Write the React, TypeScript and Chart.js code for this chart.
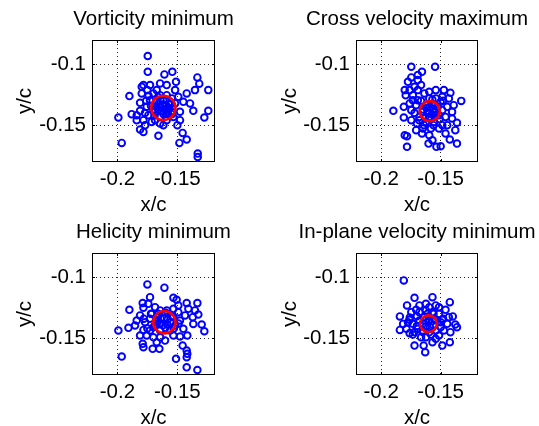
import React, { useEffect, useRef } from "react";
import { Chart, registerables } from "chart.js";

Chart.register(...registerables);

const FONT = "'Liberation Sans', Arial, Helvetica, sans-serif";

const TITLES = ["Vorticity minimum", "Cross velocity maximum", "Helicity minimum", "In-plane velocity minimum"];
const X_TITLE = "x/c";
const Y_TITLE = "y/c";
const X_TICKS = [-0.2, -0.15];
const X_LABELS = ["-0.2", "-0.15"];
const Y_TICKS = [-0.15, -0.1];
const Y_LABELS = ["-0.15", "-0.1"];
const X_MIN = -0.2212;
const X_MAX = -0.1186;
const Y_MIN = -0.1801;
const Y_MAX = -0.0803;

// Vorticity minimum
const vortX = [-0.1747, -0.1747, -0.1608, -0.1542, -0.1333, -0.1511, -0.1242, -0.19, -0.1992, -0.1964, -0.133, -0.133, -0.1483, -0.1422, -0.1456, -0.1658, -0.1242, -0.1275, -0.1367, -0.1394, -0.1317, -0.1353, -0.1422, -0.1783, -0.1728, -0.1797, -0.17, -0.1811, -0.1881, -0.1839, -0.1783, -0.1811, -0.1783, -0.1714, -0.1617, -0.1589, -0.15, -0.1644, -0.1589, -0.1519, -0.1492, -0.145, -0.1478, -0.1533,
  -0.1797, -0.175, -0.1672, -0.1644, -0.1589, -0.1547, -0.1672, -0.1617, -0.1561, -0.1644, -0.1589, -0.1686, -0.1547, -0.1644, -0.1589, -0.1756, -0.1742, -0.1686, -0.1644, -0.1811, -0.1769, -0.1519, -0.1478, -0.1728, -0.1839,
  -0.1655, -0.1625, -0.1595, -0.166, -0.163, -0.16, -0.157, -0.168, -0.1615, -0.158, -0.17, -0.156, -0.164, -0.172, -0.169, -0.1545, -0.176, -0.177, -0.174, -0.166];
const vortY = [-0.0934, -0.1063, -0.1085, -0.1063, -0.1109, -0.1145, -0.1213, -0.1262, -0.1437, -0.1645, -0.1732, -0.176, -0.1645, -0.1617, -0.1563, -0.1587, -0.1382, -0.1437, -0.1382, -0.1322, -0.116, -0.1213, -0.124, -0.1172, -0.1172, -0.124, -0.124, -0.1317, -0.141, -0.1418, -0.1459, -0.1535, -0.1555, -0.1473, -0.15, -0.1459, -0.15, -0.1158, -0.1172, -0.1213, -0.1268, -0.1309, -0.139, -0.1432,
  -0.1186, -0.1213, -0.1213, -0.1254, -0.1254, -0.1281, -0.1309, -0.1295, -0.1322, -0.135, -0.1363, -0.1391, -0.1391, -0.1432, -0.1404, -0.135, -0.1418, -0.1459, -0.1486, -0.1382, -0.15, -0.1322, -0.1459, -0.1295, -0.1459,
  -0.1325, -0.133, -0.1335, -0.137, -0.1385, -0.1375, -0.136, -0.135, -0.141, -0.1395, -0.138, -0.133, -0.13, -0.134, -0.142, -0.141, -0.13, -0.14, -0.126, -0.127];

// Cross velocity maximum
const crossX = [-0.1747, -0.1547, -0.1657, -0.1692, -0.1747, -0.1775, -0.1692, -0.1802, -0.1761, -0.1794, -0.1692, -0.1596, -0.1541, -0.1473, -0.1418, -0.1327, -0.139, -0.1898, -0.181, -0.181, -0.1747, -0.1747, -0.17, -0.165, -0.1582, -0.1486, -0.1404, -0.1363, -0.1377, -0.1802, -0.1783, -0.1783, -0.1657, -0.1569, -0.1602, -0.1536, -0.15, -0.1423, -0.1363, -0.1459, -0.1692, -0.1734, -0.1486, -0.1445, -0.1514,
  -0.1637, -0.1596, -0.1541, -0.15, -0.1624, -0.1555, -0.1651, -0.1596, -0.1541, -0.1486, -0.1459, -0.1624, -0.1555, -0.1514, -0.1445, -0.1679, -0.1706, -0.1734, -0.1665, -0.172, -0.1761, -0.1431, -0.1404, -0.1596, -0.1706,
  -0.162, -0.159, -0.156, -0.161, -0.1575, -0.1545, -0.163, -0.16, -0.165, -0.1525, -0.1665, -0.157, -0.151, -0.168, -0.172, -0.148, -0.156, -0.164];
const crossY = [-0.1022, -0.1022, -0.1063, -0.109, -0.1109, -0.1145, -0.1131, -0.1213, -0.1213, -0.1254, -0.1213, -0.1227, -0.1213, -0.1213, -0.1235, -0.1301, -0.1336, -0.1382, -0.135, -0.1437, -0.1377, -0.1459, -0.1486, -0.1527, -0.1527, -0.15, -0.1445, -0.148, -0.1541, -0.1582, -0.159, -0.1677, -0.1568, -0.1623, -0.165, -0.1677, -0.1672, -0.1617, -0.165, -0.1568, -0.1295, -0.1295, -0.1268, -0.135, -0.1418,
  -0.124, -0.1281, -0.1281, -0.1309, -0.1336, -0.1336, -0.1391, -0.1432, -0.1418, -0.1377, -0.1432, -0.1473, -0.1473, -0.1527, -0.15, -0.1432, -0.1336, -0.1254, -0.1172, -0.1186, -0.1322, -0.1281, -0.1391, -0.1582, -0.1541,
  -0.136, -0.135, -0.1365, -0.14, -0.141, -0.1395, -0.143, -0.144, -0.137, -0.135, -0.13, -0.129, -0.145, -0.146, -0.14, -0.13, -0.15, -0.15];

// Helicity minimum
const heliX = [-0.175, -0.1608, -0.1728, -0.1789, -0.1783, -0.19, -0.1533, -0.1506, -0.1422, -0.1333, -0.1353, -0.1325, -0.1372, -0.1297, -0.1367, -0.1275, -0.1992, -0.1908, -0.1839, -0.1811, -0.1853, -0.1783, -0.1789, -0.1783, -0.1706, -0.165, -0.1672, -0.1603, -0.1533, -0.1478, -0.1417, -0.1456, -0.1422, -0.1417, -0.1422, -0.1511, -0.1422, -0.1333, -0.1964, -0.1728, -0.17,
  -0.1742, -0.1686, -0.1644, -0.1589, -0.1533, -0.1492, -0.1672, -0.1728, -0.1769, -0.1686, -0.1644, -0.1561, -0.1519, -0.1478, -0.1436, -0.145, -0.1756, -0.1644, -0.1714, -0.1492, -0.1811, -0.1408, -0.1533,
  -0.164, -0.161, -0.158, -0.165, -0.162, -0.1585, -0.1555, -0.168, -0.16, -0.17, -0.1545, -0.166, -0.172, -0.175, -0.153, -0.16, -0.149, -0.178];
const heliY = [-0.106, -0.1087, -0.1164, -0.1213, -0.1251, -0.1268, -0.1169, -0.1186, -0.1213, -0.1213, -0.1273, -0.1306, -0.1328, -0.1388, -0.1383, -0.1443, -0.1437, -0.1415, -0.1355, -0.1314, -0.1396, -0.1432, -0.1546, -0.1574, -0.1587, -0.1587, -0.1533, -0.1519, -0.1478, -0.1486, -0.1478, -0.156, -0.1601, -0.1628, -0.1656, -0.1669, -0.1738, -0.176, -0.165, -0.1437, -0.1492,
  -0.1219, -0.1246, -0.1273, -0.1273, -0.126, -0.1287, -0.1328, -0.1341, -0.1369, -0.1396, -0.1437, -0.1437, -0.1396, -0.1355, -0.1314, -0.1423, -0.1478, -0.1492, -0.1301, -0.1232, -0.1478, -0.126, -0.1328,
  -0.134, -0.1335, -0.1345, -0.138, -0.1395, -0.1385, -0.137, -0.136, -0.1415, -0.141, -0.132, -0.13, -0.13, -0.142, -0.142, -0.129, -0.138, -0.134];

// In-plane velocity minimum
const inplX = [-0.181, -0.172, -0.1569, -0.1423, -0.1783, -0.1459, -0.1398, -0.1843, -0.1843, -0.1816, -0.1377, -0.1363, -0.1734, -0.172, -0.1643, -0.163, -0.1569, -0.1486, -0.1423, -0.1514, -0.1665, -0.1706, -0.1624, -0.1541, -0.1486, -0.1761, -0.1761,
  -0.1679, -0.1624, -0.1569, -0.1514, -0.1679, -0.1637, -0.1555, -0.15, -0.1692, -0.1651, -0.1596, -0.1541, -0.1473, -0.1445, -0.1734, -0.1775, -0.1747, -0.1431, -0.1624, -0.1541, -0.1596, -0.1679, -0.1514, -0.1788, -0.1418,
  -0.163, -0.16, -0.157, -0.1625, -0.159, -0.156, -0.165, -0.154, -0.17, -0.17, -0.161, -0.156, -0.15, -0.165, -0.158, -0.172, -0.148, -0.176];
const inplY = [-0.1027, -0.117, -0.1164, -0.1205, -0.1232, -0.1268, -0.1322, -0.1322, -0.1432, -0.1383, -0.1388, -0.141, -0.147, -0.156, -0.156, -0.1615, -0.1533, -0.156, -0.1533, -0.1478, -0.1492, -0.1268, -0.1219, -0.1232, -0.135, -0.135, -0.1459,
  -0.1287, -0.1273, -0.1287, -0.1301, -0.1355, -0.1328, -0.1341, -0.1369, -0.1423, -0.1437, -0.1451, -0.1437, -0.1437, -0.1382, -0.1382, -0.1369, -0.1287, -0.1328, -0.1492, -0.1505, -0.1246, -0.1232, -0.1246, -0.1423, -0.1451,
  -0.1355, -0.135, -0.136, -0.1405, -0.141, -0.1395, -0.138, -0.135, -0.132, -0.14, -0.13, -0.13, -0.141, -0.145, -0.147, -0.145, -0.134, -0.133];

// Mean position and spread radius (data units) per panel
const CENTRE_X = [-0.1617, -0.1591, -0.1608, -0.1602];
const CENTRE_Y = [-0.1358, -0.1385, -0.1369, -0.1382];
const CENTRE_R = [0.0101, 0.0084, 0.0093, 0.0071];

const SERIES_X = [vortX, crossX, heliX, inplX];
const SERIES_Y = [vortY, crossY, heliY, inplY];

const FONT_SIZE = 20.5;

const framePlugin = {
  id: "matlabFrame",
  afterDatasetsDraw(chart: any) {
    const { ctx, chartArea: a, scales } = chart;
    ctx.save();
    ctx.strokeStyle = "#000";
    ctx.lineWidth = 1;
    ctx.setLineDash([]);
    ctx.strokeRect(Math.round(a.left) + 0.5, Math.round(a.top) + 0.5, Math.round(a.right - a.left) - 1, Math.round(a.bottom - a.top) - 1);
    const tl = 3;
    ctx.beginPath();
    for (const v of X_TICKS) {
      const px = Math.round(scales.x.getPixelForValue(v)) + 0.5;
      ctx.moveTo(px, a.bottom);
      ctx.lineTo(px, a.bottom - tl);
      ctx.moveTo(px, a.top);
      ctx.lineTo(px, a.top + tl);
    }
    for (const v of Y_TICKS) {
      const py = Math.round(scales.y.getPixelForValue(v)) + 0.5;
      ctx.moveTo(a.left, py);
      ctx.lineTo(a.left + tl, py);
      ctx.moveTo(a.right, py);
      ctx.lineTo(a.right - tl, py);
    }
    ctx.stroke();
    // panel title centred over the axes box
    const title = chart.options.plugins.panelTitle?.text;
    if (title) {
      ctx.fillStyle = "#000";
      ctx.font = `${FONT_SIZE}px ${FONT}`;
      ctx.textAlign = "center";
      ctx.textBaseline = "alphabetic";
      ctx.fillText(title, (a.left + a.right) / 2, a.top - 15);
    }
    ctx.restore();
  },
};

type Area = { l: number; t: number; r: number; b: number };
type PanelProps = { idx: number; left: number; top: number; width: number; height: number; area: Area; yTitlePad: number };

function Panel({ idx, left, top, width, height, area, yTitlePad }: PanelProps) {
  const ref = useRef<HTMLCanvasElement>(null);
  useEffect(() => {
    const xs = SERIES_X[idx];
    const ys = SERIES_Y[idx];
    const tickFont = { family: FONT, size: FONT_SIZE, weight: "normal" as const, lineHeight: 1.2 };
    const chart = new Chart(ref.current as HTMLCanvasElement, {
      type: "scatter",
      data: {
        datasets: [
          {
            data: [{ x: CENTRE_X[idx], y: CENTRE_Y[idx] }],
            borderColor: "#ff0000",
            backgroundColor: "rgba(0,0,0,0)",
            borderWidth: 2.6,
            pointRadius: (c: any) => {
              const sx = c.chart.scales.x;
              if (!sx) return 10;
              return Math.abs(sx.getPixelForValue(CENTRE_X[idx] + CENTRE_R[idx]) - sx.getPixelForValue(CENTRE_X[idx]));
            },
          },
          {
            data: xs.map((x, i) => ({ x, y: ys[i] })),
            borderColor: "#0000ff",
            backgroundColor: "rgba(0,0,0,0)",
            borderWidth: 1.9,
            pointRadius: 3.3,
          },
        ],
      },
      options: {
        responsive: false,
        animation: false,
        events: [],
        layout: { padding: { left: 0, top: area.t, right: width - area.r, bottom: 0 } },
        plugins: {
          legend: { display: false },
          tooltip: { enabled: false },
          title: { display: false },
          panelTitle: { text: TITLES[idx] },
        },
        scales: {
          x: {
            type: "linear",
            min: X_MIN,
            max: X_MAX,
            afterBuildTicks: (s: any) => {
              s.ticks = X_TICKS.map((v) => ({ value: v }));
            },
            afterFit: (s: any) => {
              s.height = height - area.b;
            },
            ticks: {
              color: "#000",
              font: tickFont,
              padding: 5,
              maxRotation: 0,
              autoSkip: false,
              callback: (_v: any, i: number) => X_LABELS[i],
            },
            grid: { color: "rgba(0,0,0,0.85)", lineWidth: 1, drawTicks: false },
            border: { display: false, dash: [1, 3] },
            title: { display: true, text: X_TITLE, color: "#000", font: tickFont, padding: { top: 0, bottom: 12 } },
          },
          y: {
            type: "linear",
            min: Y_MIN,
            max: Y_MAX,
            afterBuildTicks: (s: any) => {
              s.ticks = Y_TICKS.map((v) => ({ value: v }));
            },
            afterFit: (s: any) => {
              s.width = area.l;
            },
            ticks: {
              color: "#000",
              font: tickFont,
              padding: 6,
              autoSkip: false,
              callback: (_v: any, i: number) => Y_LABELS[i],
            },
            grid: { color: "rgba(0,0,0,0.85)", lineWidth: 1, drawTicks: false },
            border: { display: false, dash: [1, 3] },
            title: { display: true, text: Y_TITLE, color: "#000", font: tickFont, padding: { top: yTitlePad, bottom: 0 } },
          },
        },
      },
      plugins: [framePlugin],
    } as any);
    return () => chart.destroy();
  }, []);
  return (
    <canvas
      ref={ref}
      width={width}
      height={height}
      style={{ position: "absolute", left, top, width, height }}
    />
  );
}

export default function App() {
  return (
    <div style={{ position: "absolute", left: 0, top: 0, width: 539, height: 426, background: "#fff", overflow: "hidden" }}>
      <Panel idx={0} left={0} top={0} width={270} height={230} area={{ l: 92, t: 40, r: 215, b: 162 }} yTitlePad={13} />
      <Panel idx={1} left={270} top={0} width={269} height={230} area={{ l: 86, t: 40, r: 208, b: 162 }} yTitlePad={8} />
      <Panel idx={2} left={0} top={213} width={270} height={230} area={{ l: 92, t: 40, r: 215, b: 162 }} yTitlePad={13} />
      <Panel idx={3} left={270} top={213} width={269} height={230} area={{ l: 86, t: 40, r: 208, b: 162 }} yTitlePad={8} />
    </div>
  );
}
